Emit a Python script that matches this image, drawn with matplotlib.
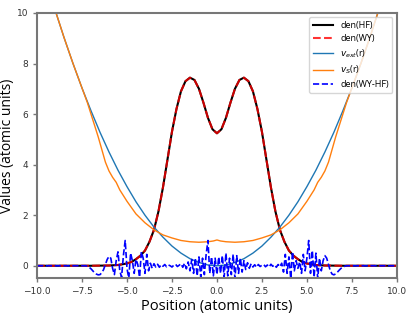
import numpy as np
import matplotlib
matplotlib.use("Agg")
import matplotlib.pyplot as plt

# ---- data ----
# densities (HF and WY lie on top of each other)
x_den = [-10.0, -7.0, -6.0, -5.5, -5.0, -4.75, -4.5, -4.25, -4.0, -3.75, -3.5, -3.25,
         -3.0, -2.75, -2.5, -2.25, -2.0, -1.75, -1.5, -1.25, -1.0, -0.75, -0.5, -0.25,
         0.0, 0.25, 0.5, 0.75, 1.0, 1.25, 1.5, 1.75, 2.0, 2.25, 2.5, 2.75, 3.0,
         3.25, 3.5, 3.75, 4.0, 4.25, 4.5, 4.75, 5.0, 5.5, 6.0, 7.0, 10.0]
den_hf = [0.0, 0.0, 0.01, 0.03, 0.09, 0.15, 0.26, 0.4, 0.6, 0.95, 1.42, 2.15,
          3.1, 4.2, 5.3, 6.2, 6.9, 7.3, 7.44, 7.35, 7.0, 6.45, 5.85, 5.4,
          5.24, 5.4, 5.85, 6.45, 7.0, 7.35, 7.44, 7.3, 6.9, 6.2, 5.3, 4.2, 3.1,
          2.15, 1.42, 0.95, 0.6, 0.4, 0.26, 0.15, 0.09, 0.03, 0.01, 0.0, 0.0]
den_wy = den_hf

# external potential
x_pot = [-10.0, -9.5, -9.0, -8.5, -8.0, -7.5, -7.0, -6.5, -6.0, -5.5, -5.0, -4.5,
         -4.0, -3.5, -3.0, -2.5, -2.0, -1.5, -1.0, -0.5, 0.0, 0.5, 1.0, 1.5, 2.0,
         2.5, 3.0, 3.5, 4.0, 4.5, 5.0, 5.5, 6.0, 6.5, 7.0, 7.5, 8.0, 8.5, 9.0,
         9.5, 10.0]
v_ext = [12.5, 11.28, 10.13, 9.03, 8.0, 7.03, 6.13, 5.28, 4.5, 3.78, 3.13, 2.53,
         2.0, 1.53, 1.13, 0.78, 0.5, 0.28, 0.13, 0.03, 0.0, 0.03, 0.13, 0.28, 0.5,
         0.78, 1.13, 1.53, 2.0, 2.53, 3.13, 3.78, 4.5, 5.28, 6.13, 7.03, 8.0, 9.03,
         10.13, 11.28, 12.5]

# KS potential
x_vs = [-10.0, -9.0, -8.5, -8.0, -7.5, -7.2, -7.0, -6.8, -6.6, -6.4, -6.2, -6.0,
        -5.8, -5.6, -5.4, -5.0, -4.5, -4.0, -3.5, -3.0, -2.5, -2.0, -1.5, -1.0,
        -0.5, -0.2, 0.0, 0.2, 0.5, 1.0, 1.5, 2.0, 2.5, 3.0, 3.5, 4.0, 4.5, 5.0,
        5.4, 5.6, 5.8, 6.0, 6.2, 6.4, 6.6, 6.8, 7.0, 7.2, 7.5, 8.0, 8.5, 9.0, 10.0]
v_s = [12.5, 10.13, 9.03, 8.0, 7.03, 6.45, 6.0, 5.55, 5.1, 4.6, 4.1, 3.75,
       3.5, 3.3, 3.0, 2.55, 2.05, 1.7, 1.42, 1.22, 1.1, 1.0, 0.95, 0.93,
       0.95, 0.98, 1.02, 0.98, 0.95, 0.93, 0.95, 1.0, 1.1, 1.22, 1.42, 1.7, 2.05, 2.55,
       3.0, 3.3, 3.5, 3.75, 4.1, 4.6, 5.1, 5.55, 6.0, 6.45, 7.03, 8.0, 9.03, 10.13, 12.5]

# density difference WY - HF (0.1 grid from -7.5 to 7.5)
x_diff = np.round(np.arange(-7.5, 7.51, 0.1), 2)
den_diff = [0.0, 0.0, 0.0, -0.02, -0.06, -0.12, -0.2, -0.28, -0.33, -0.36,
            -0.35, -0.28, -0.15, 0.05, 0.25, 0.37, 0.3, -0.1, -0.35, 0.2,
            0.55, -0.2, -0.45, 0.4, 1.0, -0.1, -0.5, 0.5, 0.2, -0.3,
            0.25, 0.05, -0.45, 0.55, 0.3, -0.3, 0.45, -0.2, 0.1, -0.1,
            0.08, -0.05, 0.06, -0.06, 0.04, -0.02, 0.05, -0.04, 0.03, 0.0,
            -0.05, 0.02, 0.06, -0.03, 0.02, 0.08, -0.06, 0.1, -0.12, 0.15,
            -0.2, 0.25, -0.3, 0.3, -0.4, 0.35, -0.45, 0.3, -0.35, 0.45,
            1.0, -0.3, 0.35, -0.4, 0.3, -0.35, 0.35, -0.3, 0.4, -0.45,
            0.5, -0.4, 0.3, -0.35, 0.45, -0.5, 0.4, -0.3, 0.3, -0.25,
            0.2, -0.15, 0.12, -0.1, 0.08, -0.05, 0.04, -0.06, 0.05, -0.03,
            0.02, 0.05, -0.04, 0.03, -0.05, 0.06, -0.02, 0.04, -0.06, 0.05,
            -0.04, 0.1, -0.25, 0.45, -0.3, 0.35, -0.5, 0.55, -0.2, 0.2,
            -0.1, 0.15, -0.3, 0.45, -0.2, 0.3, 1.0, -0.3, 0.6, -0.45,
            0.5, -0.5, 0.3, -0.2, 0.2, 0.4, 0.3, 0.05, -0.2, -0.33,
            -0.36, -0.32, -0.25, -0.17, -0.1, -0.05, -0.02, 0.0, 0.0, 0.0,
            0.0]
# pad with zeros out to the axis limits
x_diff = np.concatenate([[-10.0], x_diff, [10.0]])
den_diff = [0.0] + den_diff + [0.0]

# ---- figure ----
fig = plt.figure(figsize=(4.16, 3.16), dpi=100)
ax = fig.add_axes([0.089, 0.119, 0.865, 0.84])

ax.plot(x_den, den_hf, color='black', lw=1.5, label='den(HF)')
ax.plot(x_den, den_wy, color='red', ls='--', lw=1.5, alpha=0.8, label='den(WY)')
ax.plot(x_pot, v_ext, color='#1f77b4', lw=1.0, label='$v_{ext}$(r)')
ax.plot(x_vs, v_s, color='#ff7f0e', lw=1.0, label='$v_S$(r)')
ax.plot(x_diff, den_diff, color='blue', ls='--', lw=1.2, label='den(WY-HF)')

ax.set_xlim(-10, 10)
ax.set_ylim(-0.5, 10)
ax.set_xticks(np.arange(-10, 10.1, 2.5))
ax.set_yticks(range(0, 11, 2))

for sp in ax.spines.values():
    sp.set_color('#777777')
    sp.set_linewidth(1.5)
ax.tick_params(colors='#777777', labelcolor='#333333', labelsize=6.5, width=1, length=3)

ax.set_xlabel('Position (atomic units)', family='Open Sans', fontsize=10.5, labelpad=2)
ax.set_ylabel('Values (atomic units)', family='Open Sans', fontsize=10, labelpad=1)

ax.legend(loc='upper right', prop={'family': 'Open Sans', 'size': 6.5},
          handlelength=2.2, labelspacing=0.45, borderpad=0.4)

fig.savefig('out.png', dpi=100)
